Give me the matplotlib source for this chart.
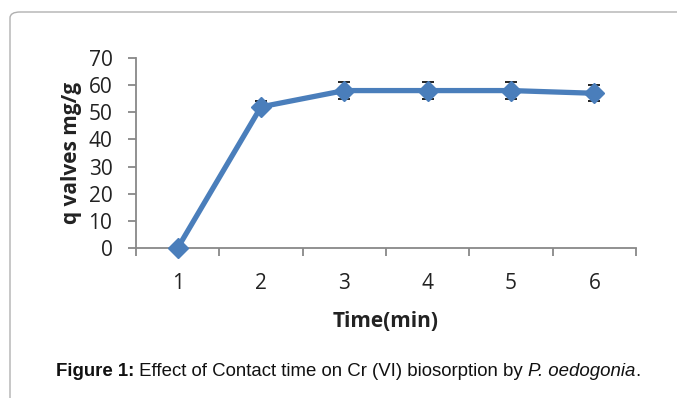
import matplotlib
matplotlib.use("Agg")
import matplotlib.pyplot as plt
from matplotlib.patches import FancyBboxPatch

categories = ["1", "2", "3", "4", "5", "6"]
q_values = [0, 52, 58, 58, 58, 57]
q_errors = [0, 2, 3, 3, 3, 3]
y_ticks = [0, 10, 20, 30, 40, 50, 60, 70]

W, H = 677, 398
fig = plt.figure(figsize=(W / 100, H / 100), dpi=100)

# outer frame (rounded, continues off the right and bottom edges)
frame = FancyBboxPatch((10 / W, -0.2), 1.2, 1 - 12 / H + 0.2,
                       boxstyle="round,pad=0,rounding_size=0.015",
                       transform=fig.transFigure, fill=False,
                       edgecolor="#b0b0b0", linewidth=1.0)
fig.patches.append(frame)

ax = fig.add_axes([136 / W, 1 - 248 / H, 500 / W, 190 / H])
x = list(range(len(categories)))
ax.errorbar(x, q_values, yerr=q_errors, color="#4A7EBB", linewidth=3.8,
            marker="D", markersize=10, ecolor="black", elinewidth=1.2,
            capsize=4, capthick=1.2, zorder=3)

ax.set_xlim(-0.5, len(categories) - 0.5)
ax.set_ylim(0, 70)
ax.set_yticks(y_ticks)
ax.set_xticks(x)
ax.set_xticklabels(categories)
ax.set_xticks([i - 0.5 for i in range(len(categories) + 1)], minor=True)
ax.tick_params(axis="x", which="major", length=0, pad=18)
ax.tick_params(axis="x", which="minor", length=6, width=1.3, color="#888888", direction="out")
ax.tick_params(axis="y", length=6, width=1.3, color="#888888", direction="out", pad=11)

for lab in ax.get_xticklabels() + ax.get_yticklabels():
    lab.set_fontfamily("Open Sans")
    lab.set_fontsize(15)
    lab.set_color("#222222")

for s in ["top", "right"]:
    ax.spines[s].set_visible(False)
for s in ["left", "bottom"]:
    ax.spines[s].set_color("#888888")
    ax.spines[s].set_linewidth(1.3)
ax.spines["left"].set_zorder(1)
ax.spines["bottom"].set_zorder(1)

ax.set_xlabel("Time(min)", fontfamily="Open Sans", fontweight="bold",
              fontsize=15, color="#222222", labelpad=12)
ax.set_ylabel("q valves mg/g", fontfamily="Open Sans", fontweight="bold",
              fontsize=15, color="#222222", labelpad=5)
for art in ax.get_children():
    try:
        art.set_clip_on(False)
    except Exception:
        pass

# caption built from pieces
fig.canvas.draw()
renderer = fig.canvas.get_renderer()
cap_y = 1 - 372 / H
pieces = [("Figure 1:", "bold", "normal"),
          (" Effect of Contact time on Cr (VI) biosorption by ", "normal", "normal"),
          ("P. oedogonia", "normal", "italic"),
          (".", "normal", "normal")]
texts = []
for txt, wt, st in pieces:
    t = fig.text(0, cap_y, txt, fontfamily="Liberation Sans", fontsize=13.4,
                 fontweight=wt, fontstyle=st, va="center", ha="left", color="#111111")
    texts.append(t)
widths = [t.get_window_extent(renderer).width for t in texts]
total = sum(widths)
start = 348 - total / 2
for t, w in zip(texts, widths):
    t.set_x(start / W)
    start += w

fig.savefig("out.png", dpi=100)
